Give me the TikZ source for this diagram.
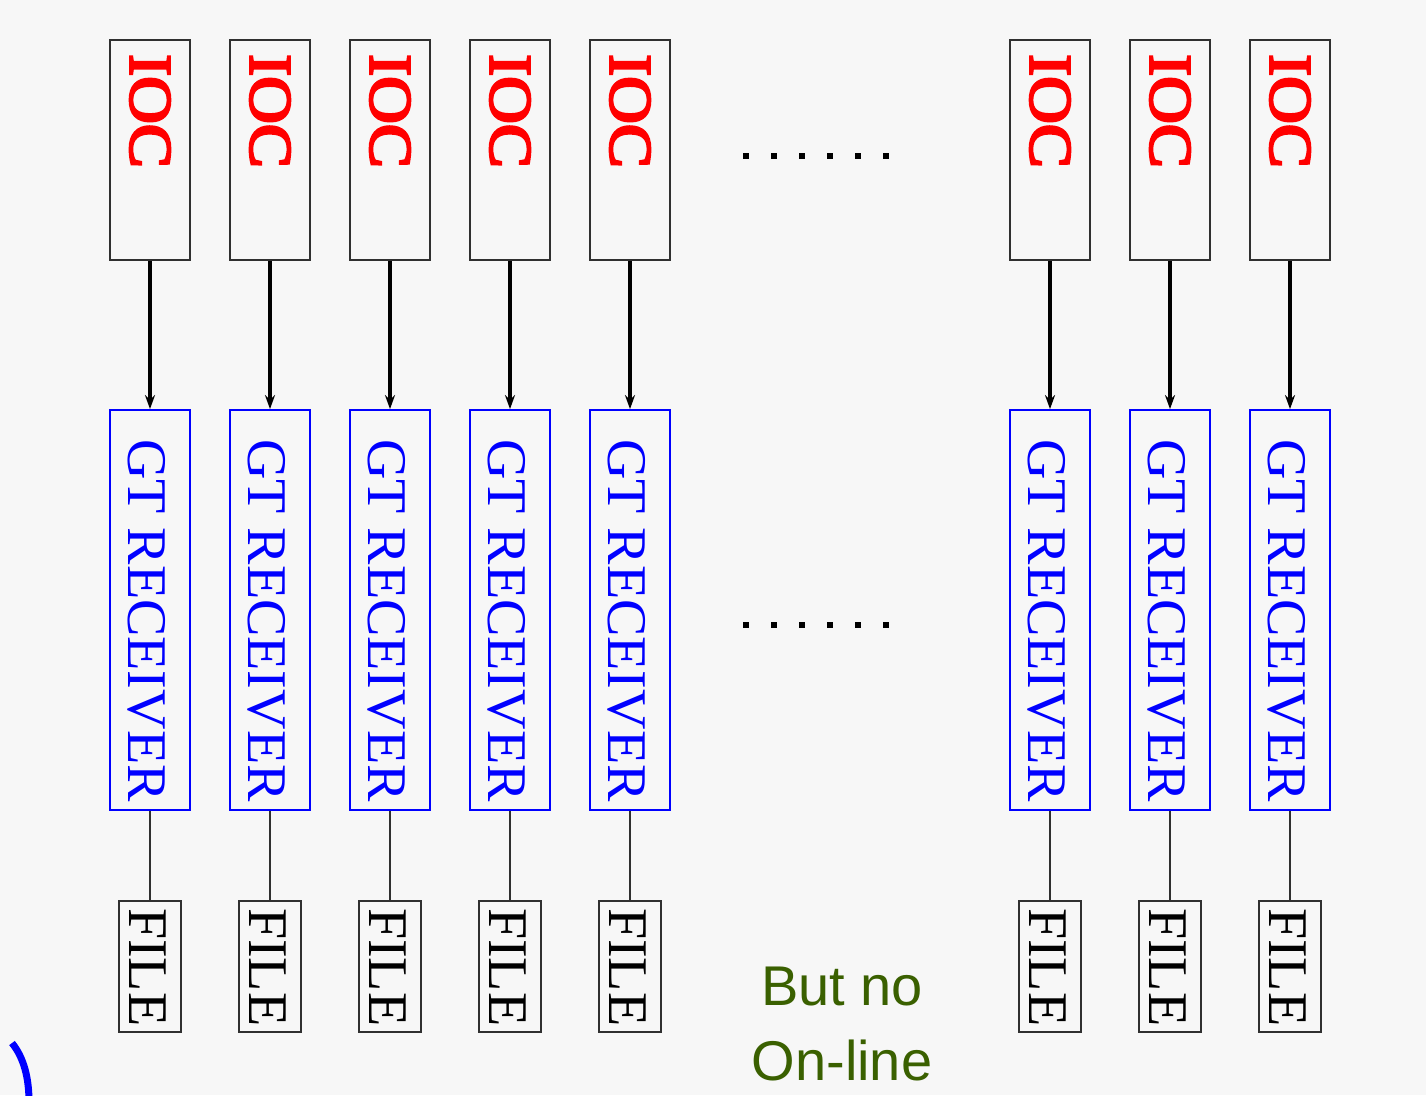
\documentclass[tikz,border=0pt]{standalone}
\usepackage{fontspec}
\setmainfont{Liberation Serif}
\newfontfamily\notesans{Liberation Sans}
\newfontfamily\iocserif{Liberation Serif}[FakeBold=4]
\usetikzlibrary{arrows.meta}
\definecolor{bggray}{HTML}{F7F7F7}
\definecolor{notegreen}{HTML}{3A6000}
\definecolor{framegray}{HTML}{303030}
\begin{document}
\begin{tikzpicture}[x=1pt,y=-1pt,
  iocbox/.style={draw=framegray, line width=2pt, minimum width=80pt, minimum height=220pt, inner sep=0},
  gtbox/.style={draw=blue, line width=1.8pt, minimum width=80pt, minimum height=400pt, inner sep=0},
  filebox/.style={draw=framegray, line width=2pt, minimum width=62pt, minimum height=131pt, inner sep=0},
  ioctext/.style={rotate=-90, xscale=1.1, anchor=west, inner sep=0, text=red, font=\iocserif\fontsize{60}{60}\selectfont},
  gttext/.style={rotate=-90, anchor=west, inner sep=0, text=blue, font=\fontsize{56}{56}\selectfont},
  filetext/.style={rotate=-90, anchor=west, inner sep=0, text=black, font=\fontsize{56}{56}\selectfont},
  feed/.style={line width=3.2pt, black, -{Stealth[length=14pt,width=10pt]}},
  dump/.style={line width=2pt, framegray},
  gapdot/.style={fill=black}
]
% canvas
\fill[bggray] (0,0) rectangle (1426,1095);
\useasboundingbox (0,0) rectangle (1426,1095);

% one chain per IOC: IOC -> GT receiver -- file
\foreach \n/\cx in {1/150,2/270,3/390,4/510,5/630,6/1050,7/1170,8/1290}{
  \node[iocbox] (ioc\n) at (\cx,150) {};
  \node[ioctext] (ioclab\n) at (\cx,54) {IOC};
  \node[gtbox] (gt\n) at (\cx,610) {};
  \node[gttext] (gtlab\n) at (\cx-3,439) {GT RECEIVER};
  \node[filebox] (file\n) at (\cx,966) {};
  \node[filetext] (filelab\n) at (\cx-2,908) {FILE};
  \draw[feed] (ioc\n.south) -- (gt\n.north);
  \draw[dump] (gt\n.south) -- (file\n.north);
}

% gap markers between the two groups
\foreach \i in {0,...,5}{
  \fill[gapdot] (743+28*\i,153) rectangle ++(6,6);
  \fill[gapdot] (743+28*\i,622) rectangle ++(6,6);
}

% note
\node[anchor=north, inner sep=0, align=center, text=notegreen,
      font=\notesans\fontsize{56}{75}\selectfont] (note) at (842,967) {But no\\On-line};

% bracket fragment at the lower left
\draw[blue, line width=7pt] (12,1043) .. controls (24,1058) and (29,1078) .. (29,1102);
\end{tikzpicture}
\end{document}
